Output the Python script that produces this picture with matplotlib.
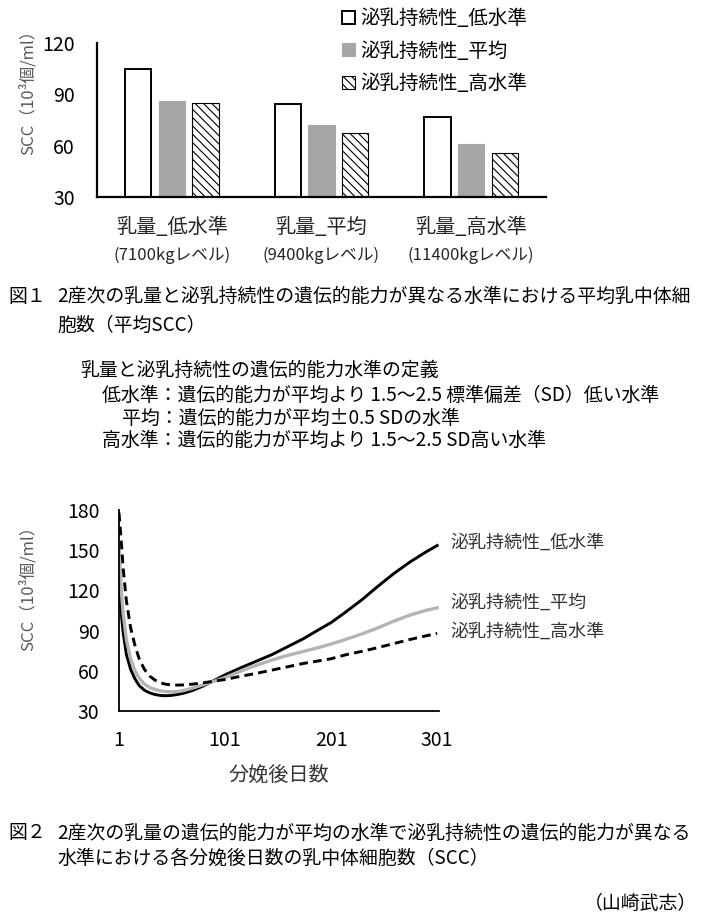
import numpy as np
import matplotlib.pyplot as plt

plt.rcParams['font.family'] = ['Noto Sans CJK JP', 'DejaVu Sans']
plt.rcParams['hatch.linewidth'] = 0.8

# figure 1 data
categories = ['乳量_低水準', '乳量_平均', '乳量_高水準']
category_sub = ['(7100kgレベル)', '(9400kgレベル)', '(11400kgレベル)']
series_names = ['泌乳持続性_低水準', '泌乳持続性_平均', '泌乳持続性_高水準']
scc_low = [105, 84.5, 77]
scc_mean = [86, 72, 61]
scc_high = [85, 67.5, 55.5]

# figure 2 data (days after calving)
days = [1, 3, 5, 8, 12, 16, 20, 25, 30, 35, 40, 45, 50, 56, 62, 70, 80, 90,
        101, 115, 130, 145, 160, 175, 190, 201, 215, 230, 245, 260, 275, 290, 301]
curve_low = [130, 104, 88, 72, 61, 54, 49, 45.5, 43.5, 42.3, 41.6, 41.4, 41.6, 42.3,
             43.3, 45.2, 48.5, 52.5, 57, 62, 67, 72, 78, 84, 91, 96, 104, 113, 123,
             132.5, 141, 148.5, 153.5]
curve_mean = [155, 122, 102, 83, 69, 60, 54.5, 50, 47.5, 46, 45, 44.5, 44.3, 44.5,
              45.3, 47, 49.5, 52, 55, 59.5, 64, 68, 71.5, 74.5, 77.5, 80, 83.5, 87.5,
              92, 97, 101.5, 105, 107]
curve_high = [178, 158, 136, 112, 92, 79, 69, 61, 56, 53, 51, 50, 49.5, 49.3, 49.5,
              50, 51, 52.2, 53.5, 55.8, 58, 60.5, 63, 65.5, 67.5, 69, 72, 74.5, 77.3,
              80.3, 83.3, 86, 88]

W, H = 705, 917


def box(l, t, r, b):
    return [l / W, 1 - b / H, (r - l) / W, (b - t) / H]


def ftext(x, y, s, **kw):
    fig.text(x / W, 1 - y / H, s, **kw)


fig = plt.figure(figsize=(W / 100, H / 100), dpi=100)

# ---- figure 1: bars
ax1 = fig.add_axes(box(97, 43, 546, 197))
x = np.arange(len(categories))
bw = 0.176
step = 0.224
ax1.bar(x - step, scc_low, bw, color='white', edgecolor='black', linewidth=1.4,
        label=series_names[0])
ax1.bar(x, scc_mean, bw, color='#a6a6a6', edgecolor='#a6a6a6', linewidth=0.8,
        label=series_names[1])
ax1.bar(x + step, scc_high, bw, color='white', edgecolor='black', linewidth=0.8,
        hatch='\\\\\\\\', label=series_names[2])
ax1.set_xlim(-0.5, 2.5)
ax1.set_ylim(30, 120)
ax1.set_yticks([30, 60, 90, 120])
ax1.set_xticks([])
for s in ['top', 'right']:
    ax1.spines[s].set_visible(False)
for s in ['left', 'bottom']:
    ax1.spines[s].set_linewidth(1.6)
ax1.tick_params(axis='y', length=0, pad=16, labelsize=14)
tr = ax1.get_xaxis_transform()
for i in range(len(categories)):
    ax1.text(i, -31 / 154, categories[i], transform=tr, ha='center', va='center',
             fontsize=14.5, color='#262626')
    ax1.text(i, -58 / 154, category_sub[i], transform=tr, ha='center', va='center',
             fontsize=12, color='#262626')
ftext(28, 88, 'SCC（10³個/ml）', rotation=90, ha='center', va='center',
      fontsize=12, color='#595959')
ax1.legend(loc='upper left', bbox_to_anchor=(342 / W, 1 - 8 / H),
           bbox_transform=fig.transFigure, frameon=False, fontsize=14,
           handlelength=0.65, handleheight=0.65, handletextpad=0.3,
           labelspacing=0.6, borderpad=0, borderaxespad=0)

# ---- captions
cap = 13.6
ftext(8, 296, '図１', fontsize=cap, va='center')
ftext(57, 296, '2産次の乳量と泌乳持続性の遺伝的能力が異なる水準における平均乳中体細',
      fontsize=cap, va='center')
ftext(57, 325, '胞数（平均SCC）', fontsize=cap, va='center')
ftext(80, 370, '乳量と泌乳持続性の遺伝的能力水準の定義', fontsize=cap, va='center')
ftext(102, 395, '低水準：遺伝的能力が平均より 1.5～2.5 標準偏差（SD）低い水準',
      fontsize=cap, va='center')
ftext(122, 418, '平均：遺伝的能力が平均±0.5 SDの水準', fontsize=cap, va='center')
ftext(102, 440, '高水準：遺伝的能力が平均より 1.5～2.5 SD高い水準',
      fontsize=cap, va='center')

# ---- figure 2: lines
ax2 = fig.add_axes(box(119, 510, 439.5, 711))
ax2.plot(days, curve_low, color='black', lw=2.1)
ax2.plot(days, curve_mean, color='#b4b4b4', lw=2.4)
ax2.plot(days, curve_high, color='black', lw=2.1, linestyle=(0, (3, 1.8)))
ax2.set_xlim(1, 303.2)
ax2.set_ylim(30, 180)
ax2.set_xticks([1, 101, 201, 301])
ax2.set_yticks([30, 60, 90, 120, 150, 180])
for s in ['top', 'right']:
    ax2.spines[s].set_visible(False)
for s in ['left', 'bottom']:
    ax2.spines[s].set_linewidth(1.3)
ax2.tick_params(axis='both', length=0, labelsize=14)
ax2.tick_params(axis='y', pad=14)
ax2.tick_params(axis='x', pad=14)
ftext(28, 584, 'SCC（10³個/ml）', rotation=90, ha='center', va='center',
      fontsize=12, color='#595959')
ftext(279, 775, '分娩後日数', ha='center', va='center', fontsize=14.5, color='#333333')
for name, yy in zip(series_names, [543, 603, 632]):
    ftext(450, yy, name, va='center', fontsize=13, color='#333333')

ftext(8, 833, '図２', fontsize=cap, va='center')
ftext(57, 833, '2産次の乳量の遺伝的能力が平均の水準で泌乳持続性の遺伝的能力が異なる',
      fontsize=cap, va='center')
ftext(57, 858, '水準における各分娩後日数の乳中体細胞数（SCC）', fontsize=cap, va='center')
ftext(697, 903, '（山崎武志）', fontsize=cap, va='center', ha='right')

fig.savefig('out.png', dpi=100)
